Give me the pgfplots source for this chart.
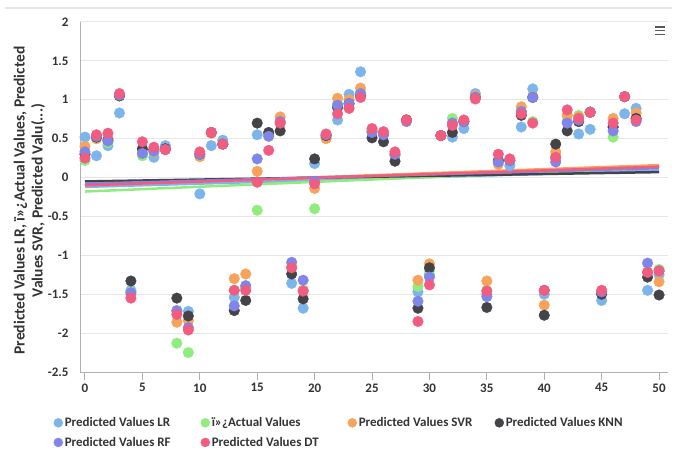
\documentclass[border=0pt]{standalone}
\usepackage{pgfplots}
\usepackage{pgfplotstable}
\pgfplotsset{compat=1.18}
\usepackage{fontspec}
\setmainfont{Carlito}
\definecolor{cLR}{HTML}{7CB5EC}
\definecolor{cACT}{HTML}{90ED7D}
\definecolor{cSVR}{HTML}{F7A35C}
\definecolor{cKNN}{HTML}{434348}
\definecolor{cRF}{HTML}{8085E9}
\definecolor{cDT}{HTML}{F15C80}
\definecolor{gridc}{HTML}{E6E6E6}
\definecolor{axc}{HTML}{B0B0B0}
\definecolor{txt}{HTML}{333333}

\pgfplotstableread{
i lr act svr knn rf dt
0 0.52 0.22 0.40 0.30 0.33 0.25
1 0.28 0.50 0.50 0.52 0.53 0.55
2 0.41 0.45 0.50 0.48 0.47 0.57
3 0.83 1.05 1.05 1.05 1.06 1.08
4 -1.45 -1.47 -1.50 -1.33 -1.48 -1.55
5 0.30 0.28 0.35 0.37 0.31 0.46
6 0.26 0.33 0.33 0.36 0.34 0.39
7 0.41 0.36 0.36 0.37 0.36 0.36
8 -1.72 -2.13 -1.86 -1.55 -1.71 -1.76
9 -1.72 -2.25 -1.84 -1.78 -1.93 -1.96
10 -0.21 0.27 0.27 0.30 0.30 0.33
11 0.41 0.58 0.57 0.58 0.58 0.58
12 0.48 0.43 0.43 0.43 0.43 0.43
13 -1.54 -1.45 -1.30 -1.71 -1.65 -1.45
14 -1.42 -1.40 -1.24 -1.58 -1.39 -1.45
15 0.55 -0.42 0.08 0.70 0.24 -0.06
16 0.55 0.55 0.57 0.58 0.53 0.35
17 0.70 0.72 0.78 0.60 0.72 0.70
18 -1.36 -1.15 -1.15 -1.24 -1.09 -1.16
19 -1.68 -1.45 -1.45 -1.56 -1.32 -1.46
20 0.18 -0.40 -0.14 0.24 -0.05 -0.08
21 0.52 0.52 0.50 0.54 0.55 0.56
22 0.74 0.95 1.02 0.90 0.93 0.82
23 1.07 0.95 1.00 0.95 0.95 0.89
24 1.36 1.10 1.15 1.05 1.08 1.03
25 0.60 0.60 0.60 0.51 0.58 0.63
26 0.55 0.55 0.55 0.46 0.55 0.59
27 0.28 0.30 0.30 0.21 0.30 0.33
28 0.74 0.74 0.74 0.74 0.72 0.74
29 -1.47 -1.40 -1.32 -1.68 -1.59 -1.85
30 -1.25 -1.20 -1.11 -1.16 -1.28 -1.38
31 0.54 0.54 0.54 0.54 0.54 0.54
32 0.52 0.76 0.70 0.58 0.70 0.67
33 0.63 0.72 0.72 0.72 0.72 0.74
34 1.08 1.03 1.05 1.03 1.03 1.01
35 -1.50 -1.45 -1.33 -1.67 -1.53 -1.46
36 0.22 0.20 0.17 0.22 0.20 0.30
37 0.15 0.22 0.22 0.22 0.22 0.24
38 0.65 0.85 0.91 0.80 0.85 0.82
39 1.14 0.72 1.04 1.03 1.03 0.70
40 -1.50 -1.45 -1.64 -1.77 -1.45 -1.45
41 0.24 0.28 0.33 0.43 0.20 0.26
42 0.72 0.80 0.80 0.60 0.70 0.87
43 0.56 0.80 0.78 0.72 0.74 0.76
44 0.62 0.84 0.84 0.84 0.84 0.84
45 -1.58 -1.47 -1.47 -1.50 -1.47 -1.45
46 0.65 0.52 0.76 0.65 0.60 0.70
47 0.82 1.04 1.04 1.04 1.04 1.04
48 0.89 0.76 0.83 0.76 0.72 0.74
49 -1.45 -1.22 -1.22 -1.28 -1.10 -1.22
50 -1.25 -1.18 -1.34 -1.51 -1.20 -1.20
}\datatable

\pgfplotstableread{
x lr act svr knn rf dt
0 -0.12 -0.18 -0.10 -0.05 -0.08 -0.10
50 0.09 0.13 0.16 0.07 0.12 0.14
}\trendtable

\newcommand{\lgd}[1]{\makebox[134pt][l]{#1}}

\begin{document}
\begin{tikzpicture}
\useasboundingbox (-80pt,-80pt) rectangle (596pt,372pt);
\draw[gridc, line width=1.5pt] (-75pt,364pt) -- (592pt,364pt);
\begin{axis}[
  at={(0pt,0pt)}, anchor=south west,
  scale only axis, width=588pt, height=350pt,
  xmin=-0.435, xmax=50.78, ymin=-2.5, ymax=2,
  axis x line*=bottom, axis y line*=left,
  axis line style={draw=axc, line width=1pt, -},
  xtick={0,5,...,50},
  ytick={-2.5,-2,-1.5,-1,-0.5,0,0.5,1,1.5,2},
  ymajorgrids, grid style={draw=gridc, line width=1pt},
  tick align=outside, major tick length=8pt,
  xtick style={draw=axc, line width=1pt},
  ytick style={draw=none},
  /pgf/number format/assume math mode=true,
  tick label style={font=\bfseries\fontsize{13}{15}\selectfont, text=txt},
  ylabel={Predicted Values LR, ï»¿Actual Values, Predicted\\Values SVR, Predicted Valu(...)},
  ylabel style={at={(axis description cs:-0.086,0.49)}, anchor=center, align=center,
    font=\bfseries\fontsize{15.5}{18}\selectfont, text=txt},
  legend columns=4,
  legend style={draw=none, fill=none, at={(axis description cs:-0.05,-0.118)}, anchor=north west,
    font=\bfseries\fontsize{13}{15}\selectfont, text=txt, column sep=0pt, row sep=5pt},
  legend image code/.code={\draw[#1, mark size=4.5pt] plot coordinates {(0pt,0pt)};},
  clip=false,
]
\addplot[cLR, line width=2.5pt, forget plot] table[x=x, y=lr] {\trendtable};
\addplot[cACT, line width=2.5pt, forget plot] table[x=x, y=act] {\trendtable};
\addplot[cSVR, line width=2.5pt, forget plot] table[x=x, y=svr] {\trendtable};
\addplot[cKNN, line width=2.5pt, forget plot] table[x=x, y=knn] {\trendtable};
\addplot[cRF, line width=2.5pt, forget plot] table[x=x, y=rf] {\trendtable};
\addplot[cDT, line width=2.5pt, forget plot] table[x=x, y=dt] {\trendtable};

\addplot[only marks, mark=*, mark size=5.3pt, color=cLR] table[x=i, y=lr] {\datatable};
\addlegendentry{\lgd{Predicted Values LR}}
\addplot[only marks, mark=*, mark size=5.3pt, color=cACT] table[x=i, y=act] {\datatable};
\addlegendentry{\lgd{ï»¿Actual Values}}
\addplot[only marks, mark=*, mark size=5.3pt, color=cSVR] table[x=i, y=svr] {\datatable};
\addlegendentry{\lgd{Predicted Values SVR}}
\addplot[only marks, mark=*, mark size=5.3pt, color=cKNN] table[x=i, y=knn] {\datatable};
\addlegendentry{\lgd{Predicted Values KNN}}
\addplot[only marks, mark=*, mark size=5.3pt, color=cRF] table[x=i, y=rf] {\datatable};
\addlegendentry{\lgd{Predicted Values RF}}
\addplot[only marks, mark=*, mark size=5.3pt, color=cDT] table[x=i, y=dt] {\datatable};
\addlegendentry{\lgd{Predicted Values DT}}

\draw[gray!70!black, line width=1.2pt] (axis description cs:0.978,0.986) -- (axis description cs:0.995,0.986);
\draw[gray!70!black, line width=1.2pt] (axis description cs:0.978,0.975) -- (axis description cs:0.995,0.975);
\draw[gray!70!black, line width=1.2pt] (axis description cs:0.978,0.964) -- (axis description cs:0.995,0.964);
\end{axis}
\end{tikzpicture}
\end{document}
